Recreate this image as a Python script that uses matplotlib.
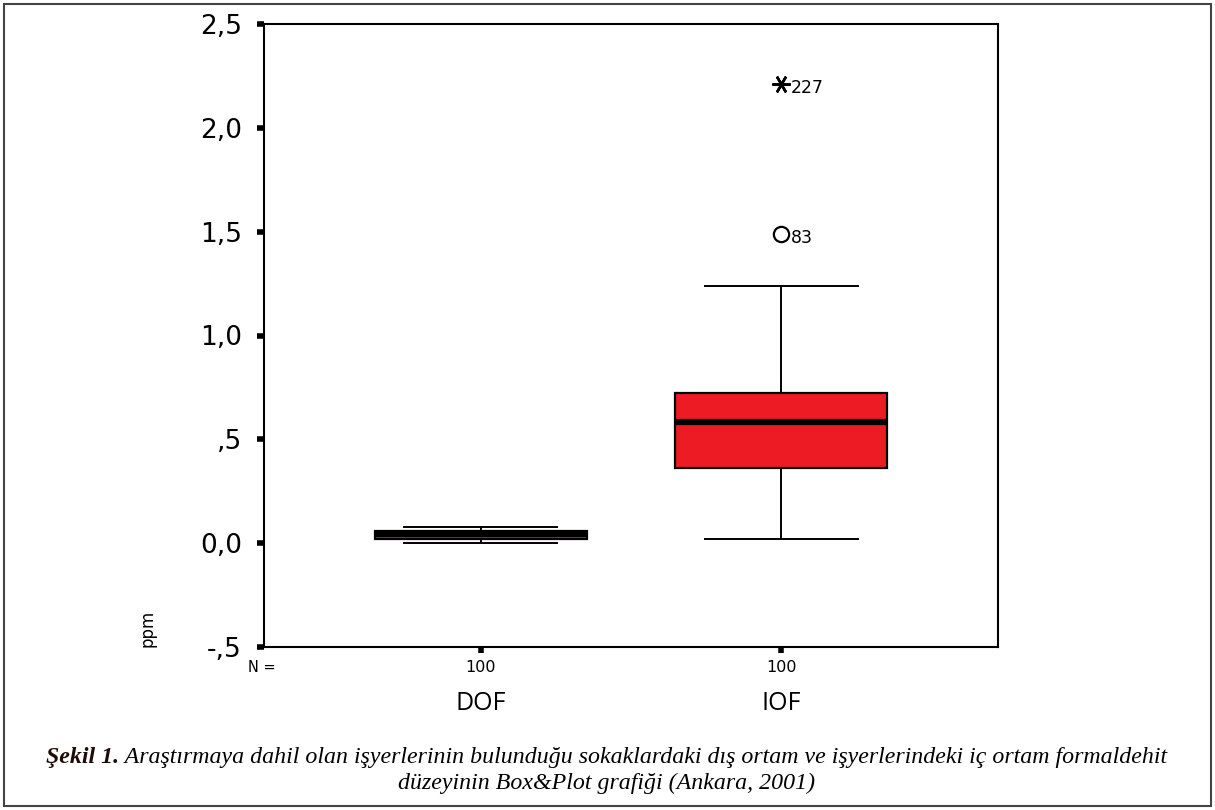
import numpy as np
import matplotlib
matplotlib.use('agg')
import matplotlib.pyplot as plt
from matplotlib.patches import Rectangle
import matplotlib.transforms as mtransforms

# values (ppm)
groups = ['DOF', 'IOF']
n_cases = [100, 100]
q1 = [0.02, 0.36]
med = [0.045, 0.585]
q3 = [0.06, 0.725]
whislo = [0.0, 0.022]
whishi = [0.078, 1.24]
out_circle = [[], [1.49]]
out_circle_id = [[], ['83']]
out_star = [[], [2.21]]
out_star_id = [[], ['227']]

yticks = [-0.5, 0.0, 0.5, 1.0, 1.5, 2.0, 2.5]
ytick_labels = ['-,5', '0,0', ',5', '1,0', '1,5', '2,0', '2,5']

plt.rcParams['font.family'] = ['DejaVu Sans']
fig = plt.figure(figsize=(12.15, 8.1), dpi=100, facecolor='w')
ax = fig.add_axes([264/1215, 1-647/810, (998-264)/1215, (647-24)/810])

pos = [1, 2]
stats = []
for i in range(len(groups)):
    stats.append({'med': med[i], 'q1': q1[i], 'q3': q3[i],
                  'whislo': whislo[i], 'whishi': whishi[i],
                  'fliers': [], 'label': groups[i]})
ax.bxp(stats, positions=pos, widths=0.707, capwidths=0.51, patch_artist=True,
       showfliers=False,
       boxprops=dict(facecolor='#ED1C24', edgecolor='black', linewidth=1.6),
       medianprops=dict(color='black', linewidth=4.5, solid_capstyle='butt'),
       whiskerprops=dict(color='black', linewidth=1.4),
       capprops=dict(color='black', linewidth=1.4))

for i, p in enumerate(pos):
    for v, lab in zip(out_circle[i], out_circle_id[i]):
        ax.plot(p, v, marker='o', ms=11, mfc='none', mec='black', mew=1.6, zorder=5)
        ax.annotate(lab, (p, v), xytext=(7, -3), textcoords='offset points',
                    ha='left', va='center', fontsize=12.5)
    for v, lab in zip(out_star[i], out_star_id[i]):
        ax.plot(p, v, marker=(6, 2, 90), ms=13, mec='black', mew=1.8, zorder=5)
        ax.annotate(lab, (p, v), xytext=(7, -3), textcoords='offset points',
                    ha='left', va='center', fontsize=12.5)

ax.set_xlim(0.277, 2.723)
ax.set_ylim(-0.5, 2.5)
ax.set_yticks(yticks)
ax.set_yticklabels(ytick_labels, fontsize=19)
ax.set_xticks(pos)
ax.set_xticklabels([str(n) for n in n_cases], fontsize=11.5)
ax.tick_params(axis='y', direction='out', length=5, width=4, pad=11)
ax.tick_params(axis='x', direction='out', length=4, width=4, pad=5)
for s in ax.spines.values():
    s.set_linewidth(1.5)

trans = mtransforms.blended_transform_factory(ax.transData, fig.transFigure)
for p, g in zip(pos, groups):
    fig.text(p, 1-704/810, g, transform=trans, ha='center', va='center',
             fontsize=18, family='Open Sans')
fig.text(262/1215, 1-667/810, 'N =', ha='center', va='center', fontsize=10.5)
fig.text(148/1215, 1-628/810, 'ppm', ha='center', va='center', rotation=90, fontsize=12)

# caption, first line mixes bold-italic and italic
cap1a = 'Şekil 1.'
cap1b = ' Araştırmaya dahil olan işyerlerinin bulunduğu sokaklardaki dış ortam ve işyerlerindeki iç ortam formaldehit'
cap2 = 'düzeyinin Box&Plot grafiği (Ankara, 2001)'
cfs = 17.2
t1 = fig.text(0, 1-758/810, cap1a, ha='left', va='center', fontsize=cfs,
              family='Liberation Serif', style='italic', weight='bold', color='#1e0c06')
t2 = fig.text(0, 1-758/810, cap1b, ha='left', va='center', fontsize=cfs,
              family='Liberation Serif', style='italic')
fig.canvas.draw()
r = fig.canvas.get_renderer()
w1 = t1.get_window_extent(r).width
w2 = t2.get_window_extent(r).width
x0 = (607 - (w1 + w2) / 2) / 1215
t1.set_x(x0)
t2.set_x(x0 + w1 / 1215)
fig.text(607/1215, 1-783/810, cap2, ha='center', va='center', fontsize=cfs,
         family='Liberation Serif', style='italic')

fig.patches.append(Rectangle((4/1215, 4/810), 1207/1215, 802/810, transform=fig.transFigure,
                             fill=False, edgecolor='#444444', linewidth=1.5))

fig.savefig('out.png', dpi=100)
